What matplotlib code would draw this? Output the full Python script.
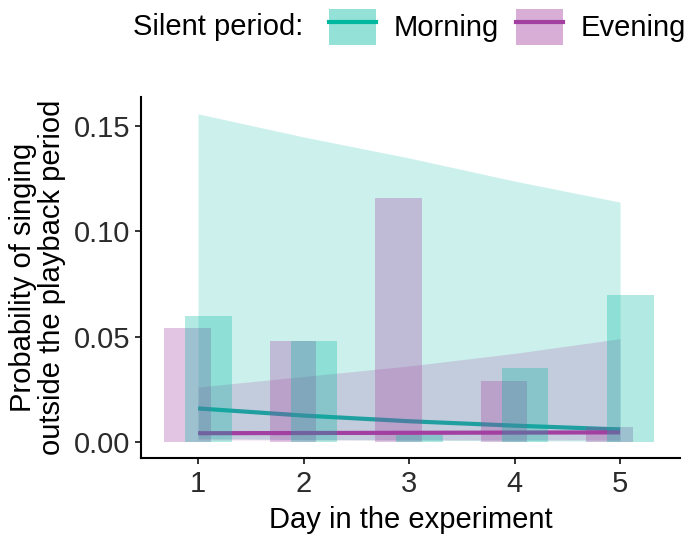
import matplotlib.pyplot as plt
from matplotlib.patches import Patch
from matplotlib.lines import Line2D
from matplotlib.legend_handler import HandlerTuple

plt.rcParams['font.family'] = ['Liberation Sans', 'DejaVu Sans']
plt.rcParams['font.size'] = 21

days = [1, 2, 3, 4, 5]

# observed proportions (bars)
morning_obs = [0.060, 0.048, 0.003, 0.035, 0.070]
evening_obs = [0.054, 0.048, 0.116, 0.029, 0.007]

# model fit and confidence band
morning_fit = [0.0158, 0.0124, 0.0097, 0.0076, 0.0058]
morning_lo = [0.0015, 0.0010, 0.0007, 0.0004, 0.0002]
morning_hi = [0.156, 0.145, 0.135, 0.124, 0.114]

evening_fit = [0.0040, 0.0041, 0.0042, 0.0043, 0.0044]
evening_lo = [0.0008, 0.0008, 0.0008, 0.0008, 0.0008]
evening_hi = [0.026, 0.031, 0.036, 0.042, 0.049]

teal = '#00B8A0'
purple = '#A23FA1'

fig = plt.figure(figsize=(6.85, 5.36), dpi=100)
ax = fig.add_axes([0.206, 0.1455, 0.787, 0.6735])

ax.fill_between(days, morning_lo, morning_hi, color=teal, alpha=0.2, lw=0, zorder=1)

# fitted lines, under the evening band and the bars
ax.plot(days, morning_fit, color=teal, lw=3, solid_capstyle='butt', zorder=2)
ax.plot(days, evening_fit, color=purple, lw=3, solid_capstyle='butt', zorder=2)

ax.fill_between(days, evening_lo, evening_hi, color=purple, alpha=0.2, lw=0, zorder=3)

w = 0.44
ax.bar([d - 0.1 for d in days], evening_obs, width=w, color=purple, alpha=0.3, lw=0, zorder=4)
ax.bar([d + 0.1 for d in days], morning_obs, width=w, color=teal, alpha=0.3, lw=0, zorder=4)

ax.set_xlim(0.46, 5.57)
ax.set_ylim(-0.0078, 0.164)
ax.set_xticks(days)
ax.set_yticks([0.0, 0.05, 0.10, 0.15])
ax.set_yticklabels(['0.00', '0.05', '0.10', '0.15'])
for s in ['top', 'right']:
    ax.spines[s].set_visible(False)
for s in ['left', 'bottom']:
    ax.spines[s].set_linewidth(1.5)
ax.tick_params(width=1.4, length=4.5, labelsize=21, colors='#333333', labelcolor='#2b2b2b')
ax.tick_params(axis='x', pad=4)
ax.tick_params(axis='y', pad=3)
ax.set_xlabel('Day in the experiment', fontsize=21, labelpad=6)
ax.set_ylabel('Probability of singing\noutside the playback period', fontsize=21,
              labelpad=6, linespacing=1.02)

handles = [
    (Patch(facecolor=teal, alpha=0.42, lw=0), Line2D([], [], color=teal, lw=3)),
    (Patch(facecolor=purple, alpha=0.42, lw=0), Line2D([], [], color=purple, lw=3)),
]
fig.text(0.194, 0.95, 'Silent period:', fontsize=21, va='center', ha='left')
fig.legend(handles, ['Morning', 'Evening'], ncol=2, loc='center left',
           bbox_to_anchor=(0.481, 0.95), frameon=False, fontsize=21,
           handler_map={tuple: HandlerTuple(ndivide=1)},
           handlelength=1.6, handleheight=1.55, handletextpad=0.6,
           columnspacing=0.6, borderpad=0, borderaxespad=0)

fig.savefig('out.png', dpi=100)
